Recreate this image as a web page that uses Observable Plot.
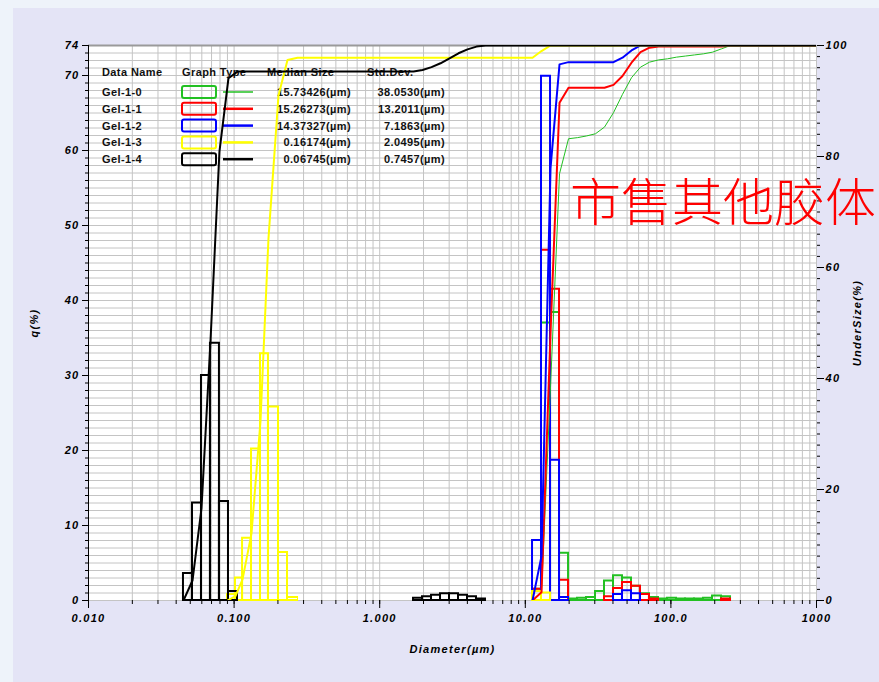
<!DOCTYPE html>
<html><head><meta charset="utf-8">
<script src="https://cdn.jsdelivr.net/npm/d3@7"></script>
<script src="https://cdn.jsdelivr.net/npm/@observablehq/plot@0.6"></script>
<style>
body{margin:0;background:#eef3fa;}
#chart{position:relative;width:879px;height:682px;}
#panel{position:absolute;left:13px;top:8px;width:866px;height:674px;background:#e4e4f6;}
#chart svg{position:absolute;left:0;top:0;}
</style></head><body><div id="chart"><div id="panel"></div></div>
<script>
// ---- series meta ----
const seriesNames = ["Gel-1-0", "Gel-1-1", "Gel-1-2", "Gel-1-3", "Gel-1-4"];
const seriesColors = ["#22c022", "#ff0000", "#0000ff", "#ffff00", "#000000"];
const medianSizes = ["15.73426(µm)", "15.26273(µm)", "14.37327(µm)", "0.16174(µm)", "0.06745(µm)"];
const stdDevs = ["38.0530(µm)", "13.2011(µm)", "7.1863(µm)", "2.0495(µm)", "0.7457(µm)"];
const legendHeaders = ["Data Name", "Graph Type", "Median Size", "Std.Dev."];

// ---- histogram bins (diameter µm edges) and q(%) values ----
const gel10Edges = [11.21, 12.92, 14.90, 17.18, 19.81, 22.83, 26.33, 30.35, 34.99, 40.35, 46.51, 53.63, 61.83, 71.28, 82.18, 94.76, 109.3, 126.0, 145.2, 167.5, 193.1, 222.6, 256.7];
const gel10Q = [1.5, 37.0, 38.4, 6.3, 0.2, 0.3, 0.4, 1.2, 2.6, 3.3, 3.0, 1.9, 0.9, 0.4, 0.2, 0.3, 0.2, 0.2, 0.2, 0.3, 0.6, 0.5];

const gel11Edges = [11.21, 12.92, 14.90, 17.18, 19.81];
const gel11Q = [1.5, 46.7, 41.5, 2.7];
const gel11Edges2 = [34.99, 40.35, 46.51, 53.63, 61.83, 71.28, 82.18];
const gel11Q2 = [0.5, 1.6, 2.4, 1.9, 0.8, 0.2];
const gel11Edges3 = [222.6, 256.7];
const gel11Q3 = [0.2];

const gel12Edges = [11.21, 12.92, 14.90, 17.18, 19.81];
const gel12Q = [8.0, 69.9, 18.7, 0.4];
const gel12Edges2 = [40.35, 46.51, 53.63, 61.83];
const gel12Q2 = [0.8, 1.3, 0.9];

const gel13Edges = [0.0901, 0.1022, 0.1143, 0.1317, 0.1518, 0.1722, 0.2018, 0.2327, 0.2726];
const gel13Q = [0.8, 3.0, 8.3, 20.2, 32.9, 25.8, 6.4, 0.4];
const gel13Edges2 = [11.21, 12.92, 14.90];
const gel13Q2 = [1.2, 1.0];

const gel14Edges = [0.0449, 0.0518, 0.0597, 0.0688, 0.0793, 0.0915, 0.1055];
const gel14Q = [3.6, 13.0, 30.0, 34.3, 13.2, 1.2];
const gel14Edges2 = [1.707, 1.968, 2.269, 2.616, 3.016, 3.477, 4.009, 4.621, 5.328];
const gel14Q2 = [0.3, 0.5, 0.7, 0.9, 0.9, 0.7, 0.5, 0.2];

// ---- cumulative undersize (%) : [diameter µm, undersize %] ----
const gel10Cum = [[11.21,0],[12.92,1.5],[14.90,38.5],[17.18,76.9],[19.81,83.2],[22.83,83.4],[26.33,83.7],[30.35,84.1],[34.99,85.3],[40.35,87.9],[46.51,91.2],[53.63,94.2],[61.83,96.1],[71.28,97.0],[82.18,97.4],[94.76,97.6],[109.3,97.9],[126.0,98.1],[145.2,98.3],[167.5,98.5],[193.1,98.8],[222.6,99.4],[256.7,100],[1000,100]];
const gel11Cum = [[11.21,0],[12.92,1.5],[14.90,48.2],[17.18,89.7],[19.81,92.4],[34.99,92.4],[40.35,92.9],[46.51,94.5],[53.63,96.9],[61.83,98.8],[71.28,99.6],[82.18,99.8],[222.6,99.8],[256.7,100],[1000,100]];
const gel12Cum = [[11.21,0],[12.92,8.0],[14.90,77.9],[17.18,96.6],[19.81,97.0],[40.35,97.0],[46.51,97.8],[53.63,99.1],[61.83,100],[1000,100]];
const gel13Cum = [[0.0901,0],[0.1022,0.8],[0.1143,3.8],[0.1317,12.1],[0.1518,32.3],[0.1722,65.2],[0.2018,91.0],[0.2327,97.4],[0.2726,97.8],[11.21,97.8],[12.92,99.0],[14.90,100],[1000,100]];
const gel14Cum = [[0.0449,0],[0.0518,3.6],[0.0597,16.6],[0.0688,46.6],[0.0793,80.9],[0.0915,94.1],[0.1055,95.3],[1.707,95.3],[1.968,95.6],[2.269,96.1],[2.616,96.8],[3.016,97.7],[3.477,98.6],[4.009,99.3],[4.621,99.8],[5.328,100],[1000,100]];

// ---- axis ticks ----
const xMajorTicks = [0.01, 0.1, 1, 10, 100, 1000];
const xMajorLabels = ["0.010", "0.100", "1.000", "10.00", "100.0", "1000"];
const yLeftTicks = [0, 10, 20, 30, 40, 50, 60, 70, 74];
const yRightTicks = [0, 20, 40, 60, 80, 100];

// ---- build ----
function bins(name, edges, q) {
  return q.map((v, i) => ({series: name, lo: edges[i], hi: edges[i + 1], q: v})).filter(d => d.q > 0);
}
const barSets = [
  bins("Gel-1-0", gel10Edges, gel10Q),
  [...bins("Gel-1-1", gel11Edges, gel11Q), ...bins("Gel-1-1", gel11Edges2, gel11Q2), ...bins("Gel-1-1", gel11Edges3, gel11Q3)],
  [...bins("Gel-1-2", gel12Edges, gel12Q), ...bins("Gel-1-2", gel12Edges2, gel12Q2)],
  [...bins("Gel-1-3", gel13Edges, gel13Q), ...bins("Gel-1-3", gel13Edges2, gel13Q2)],
  [...bins("Gel-1-4", gel14Edges, gel14Q), ...bins("Gel-1-4", gel14Edges2, gel14Q2)]
];
const cumSets = [gel10Cum, gel11Cum, gel12Cum, gel13Cum, gel14Cum];
const lineWidths = [1, 2, 2, 2, 2];
const K = 74 / 100; // right axis (0–100 %) drawn on the same pixel range as q (0–74 %)

const minorX = d3.scaleLog().domain([0.01, 1000]).ticks();
const gridY = d3.range(0, 75);

const chart = Plot.plot({
  width: 879, height: 682,
  marginLeft: 88, marginRight: 63, marginTop: 45, marginBottom: 82,
  style: {background: "transparent", fontFamily: "'Liberation Sans', Arial, sans-serif", fontSize: "11px", fontStyle: "italic", fontWeight: "bold", letterSpacing: "1.3px", color: "#000"},
  x: {type: "log", domain: [0.01, 1000]},
  y: {domain: [0, 74]},
  marks: [
    Plot.frame({fill: "white", stroke: "none"}),
    Plot.ruleY(gridY, {stroke: "#c4c4c4", strokeWidth: 1}),
    Plot.ruleX(minorX, {stroke: "#c4c4c4", strokeWidth: 1}),
    Plot.ruleY([74], {stroke: "#9a9a9a", strokeWidth: 2}),
    ...barSets.map((data, i) => Plot.rect(data, {x1: "lo", x2: "hi", y1: 0, y2: "q", fill: "none", stroke: seriesColors[i], strokeWidth: 2})),
    ...cumSets.map((data, i) => Plot.line(data, {x: d => d[0], y: d => d[1] * K, stroke: seriesColors[i], strokeWidth: lineWidths[i], clip: true})),
    Plot.ruleX([0.01], {stroke: "#000", strokeWidth: 1}),
    Plot.axisY(gridY, {anchor: "left", tickSize: 3, tickFormat: () => "", label: null}),
    Plot.axisY(yLeftTicks, {anchor: "left", tickSize: 6, tickPadding: 3, label: "q(%)", labelAnchor: "center", labelOffset: 58, labelArrow: "none"}),
    Plot.axisY(d3.range(0, 101, 2).map(u => u * K), {anchor: "right", tickSize: 3, tickFormat: () => "", label: null}),
    Plot.axisY(yRightTicks.map(u => u * K), {anchor: "right", tickSize: 7, tickPadding: 2, tickFormat: d => String(Math.round(d / K)), label: "UnderSize(%)", labelAnchor: "center", labelOffset: 44, labelArrow: "none"}),
    Plot.axisX(minorX, {anchor: "bottom", tickSize: 4, tickFormat: () => "", label: null}),
    Plot.axisX(xMajorTicks, {anchor: "bottom", tickSize: 8, tickPadding: 6, tickFormat: d => xMajorLabels[xMajorTicks.indexOf(d)], label: "Diameter(µm)", labelAnchor: "center", labelOffset: 52, labelArrow: "none"})
  ]
});
document.getElementById("chart").appendChild(chart);

// ---- in-plot legend table (drawn beneath the data marks) ----
const svg = d3.select(chart);
const firstRect = chart.querySelector('[aria-label="rect"]');
const lg = svg.insert("g", () => firstRect)
  .attr("text-anchor", "start")
  .attr("font-style", "normal").attr("font-weight", "bold").attr("font-size", "11px")
  .attr("letter-spacing", "0.4px").attr("fill", "#111");
const headX = [102, 182, 267, 367];
legendHeaders.forEach((h, i) => lg.append("text").attr("x", headX[i]).attr("y", 76).text(h));
seriesNames.forEach((name, i) => {
  const base = 96 + i * 16.8, cy = base - 4;
  lg.append("text").attr("x", 102).attr("y", base).text(name);
  lg.append("rect").attr("x", 182).attr("y", cy - 6).attr("width", 34).attr("height", 12).attr("rx", 2)
    .attr("fill", "none").attr("stroke", seriesColors[i]).attr("stroke-width", 2);
  lg.append("line").attr("x1", 223).attr("x2", 253).attr("y1", cy).attr("y2", cy)
    .attr("stroke", seriesColors[i]).attr("stroke-width", lineWidths[i] + 0.5);
  lg.append("text").attr("x", 351).attr("y", base).attr("text-anchor", "end").text(medianSizes[i]);
  lg.append("text").attr("x", 445).attr("y", base).attr("text-anchor", "end").text(stdDevs[i]);
});

// ---- annotation ----
svg.append("text").attr("x", 570).attr("y", 221).attr("text-anchor", "start")
  .attr("font-family", "'Noto Sans CJK SC', sans-serif").attr("font-size", 51)
  .attr("font-style", "normal").attr("font-weight", 300).attr("letter-spacing", "0px").attr("fill", "#ff0000")
  .text("市售其他胶体");
</script></body></html>
